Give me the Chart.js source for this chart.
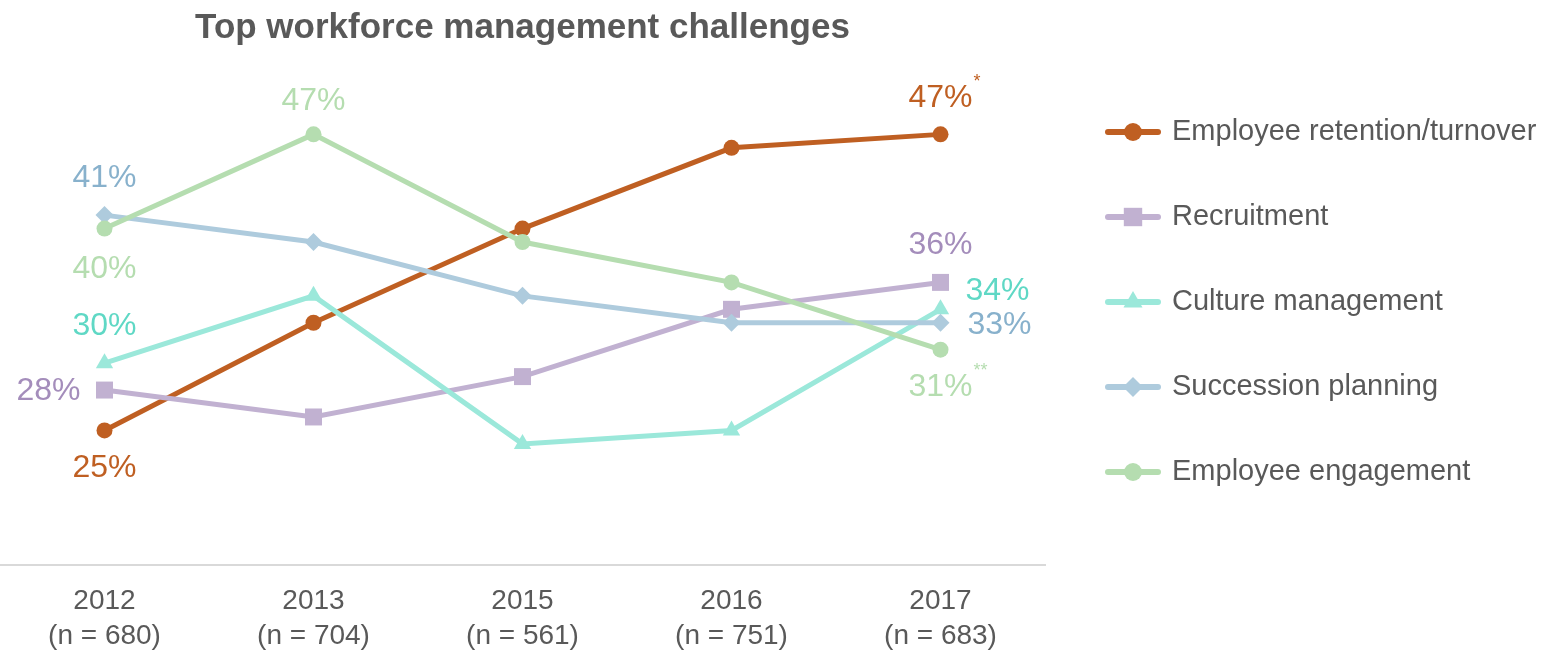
<!DOCTYPE html>
<html>
<head>
<meta charset="utf-8">
<script src="https://cdn.jsdelivr.net/npm/chart.js@4"></script>
<style>
  html, body { margin: 0; padding: 0; background: #fff; }
  #wrap { width: 1556px; height: 650px; }
</style>
</head>
<body>
<div id="wrap"><canvas id="myChart" width="1556" height="650"></canvas></div>
<script>
var years = ["2012", "2013", "2015", "2016", "2017"];
var sampleSizes = ["(n = 680)", "(n = 704)", "(n = 561)", "(n = 751)", "(n = 683)"];

var seriesNames = ["Employee retention/turnover", "Recruitment", "Culture management", "Succession planning", "Employee engagement"];
var retention   = [25, 33, 40, 46, 47];
var recruitment = [28, 26, 29, 34, 36];
var culture     = [30, 35, 24, 25, 34];
var succession  = [41, 39, 35, 33, 33];
var engagement  = [40, 47, 39, 36, 31];

var lineColors  = ["#BF5F22", "#C1B1D1", "#9BE8DA", "#AECBDD", "#B5DDB0"];
var labelColors = ["#BF5F22", "#A48DBB", "#5FD8C5", "#88B1CC", "#B5DDB0"];
var markers     = ["circle", "rect", "triangle", "rectRot", "circle"];
var markerSizes = [8, 12, 10, 9, 8];

// which points carry a value label, and where it sits relative to the point
var valueLabels = [
  {s: 3, i: 0, dx: 0,   dy: -37, align: "center"},
  {s: 4, i: 0, dx: 0,   dy: 41,  align: "center"},
  {s: 2, i: 0, dx: 0,   dy: -37, align: "center"},
  {s: 1, i: 0, dx: -24, dy: 1,   align: "right"},
  {s: 0, i: 0, dx: 0,   dy: 38,  align: "center"},
  {s: 4, i: 1, dx: 0,   dy: -33, align: "center"},
  {s: 0, i: 4, dx: 0,   dy: -36, align: "center", note: "*"},
  {s: 1, i: 4, dx: 0,   dy: -37, align: "center"},
  {s: 2, i: 4, dx: 25,  dy: -18, align: "left"},
  {s: 3, i: 4, dx: 27,  dy: 2,   align: "left"},
  {s: 4, i: 4, dx: 0,   dy: 37,  align: "center", note: "**"}
];

var FONT = "'Liberation Sans', Arial, Helvetica, sans-serif";
var allSeries = [retention, recruitment, culture, succession, engagement];

var datasets = allSeries.map(function (vals, k) {
  return {
    label: seriesNames[k],
    data: vals,
    borderColor: lineColors[k],
    backgroundColor: lineColors[k],
    borderWidth: 5,
    pointStyle: markers[k],
    pointRadius: markerSizes[k],
    pointBorderWidth: 0,
    pointBackgroundColor: lineColors[k],
    tension: 0,
    order: 5 - k
  };
});

var labelPlugin = {
  id: "valueLabels",
  afterDatasetsDraw: function (chart) {
    var ctx = chart.ctx;
    ctx.save();
    valueLabels.forEach(function (l) {
      var pt = chart.getDatasetMeta(l.s).data[l.i];
      var txt = allSeries[l.s][l.i] + "%";
      ctx.font = "32px " + FONT;
      ctx.fillStyle = labelColors[l.s];
      ctx.textAlign = l.align;
      ctx.textBaseline = "middle";
      var x = pt.x + l.dx, y = pt.y + l.dy;
      ctx.fillText(txt, x, y);
      if (l.note) {
        var w = ctx.measureText(txt).width;
        var right = l.align === "center" ? x + w / 2 : (l.align === "left" ? x + w : x);
        ctx.font = "18px " + FONT;
        ctx.textAlign = "left";
        ctx.fillText(l.note, right + 1, y - 16);
      }
    });
    ctx.restore();
  }
};

var legendPlugin = {
  id: "sideLegend",
  afterDraw: function (chart) {
    var ctx = chart.ctx;
    var x0 = 1108, x1 = 1158, top = 132, step = 85;
    ctx.save();
    seriesNames.forEach(function (name, k) {
      var y = top + k * step;
      ctx.strokeStyle = lineColors[k];
      ctx.lineWidth = 6;
      ctx.lineCap = "round";
      ctx.beginPath();
      ctx.moveTo(x0, y);
      ctx.lineTo(x1, y);
      ctx.stroke();
      ctx.fillStyle = lineColors[k];
      Chart.helpers.drawPoint(ctx, {pointStyle: markers[k], radius: markerSizes[k] + 1, rotation: 0, borderWidth: 0}, (x0 + x1) / 2, y);
      ctx.fillStyle = "#595959";
      ctx.font = "29px " + FONT;
      ctx.textAlign = "left";
      ctx.textBaseline = "middle";
      ctx.fillText(name, 1172, y);
    });
    ctx.restore();
  }
};

new Chart("myChart", {
  type: "line",
  data: {
    labels: years.map(function (y, i) { return [y, sampleSizes[i]]; }),
    datasets: datasets
  },
  options: {
    responsive: false,
    animation: false,
    layout: {autoPadding: false, padding: {left: -3, right: 511, top: 0, bottom: 0}},
    plugins: {
      legend: {display: false},
      tooltip: {enabled: false},
      title: {
        display: true,
        fullSize: false,
        text: "Top workforce management challenges",
        color: "#595959",
        font: {family: FONT, size: 35, weight: "bold"},
        padding: {top: 7, bottom: 45}
      }
    },
    scales: {
      x: {
        offset: true,
        grid: {display: false, drawTicks: false},
        border: {display: true, color: "#D9D9D9", width: 2},
        ticks: {
          color: "#595959",
          font: {family: FONT, size: 28, lineHeight: 1.25},
          padding: 19,
          maxRotation: 0
        },
        afterFit: function (scale) { scale.height = 85; }
      },
      y: {
        display: false,
        min: 15,
        max: 50
      }
    }
  },
  plugins: [labelPlugin, legendPlugin]
});
</script>
</body>
</html>
